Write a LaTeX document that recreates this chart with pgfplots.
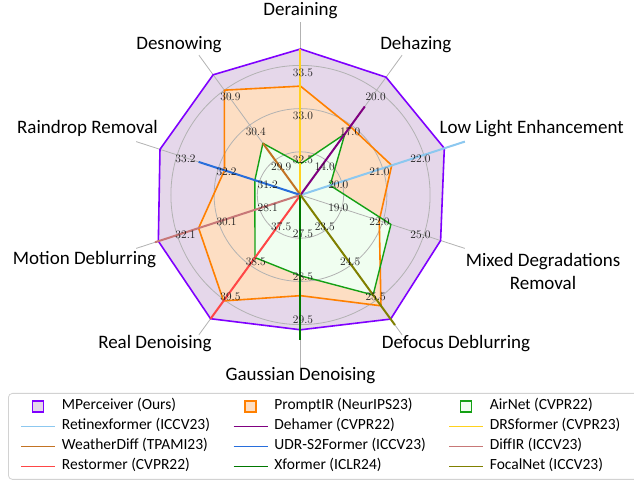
\documentclass[border=0pt]{standalone}
\usepackage{fontspec}
\usepackage{pgfplots}
\pgfplotsset{compat=1.18}
\usepackage{pgfplotstable}
\newfontfamily\calfont{Carlito}

\definecolor{mpc}{RGB}{127,0,255}
\definecolor{mpf}{RGB}{229,215,234}
\definecolor{pic}{RGB}{255,128,0}
\definecolor{pif}{RGB}{253,222,195}
\definecolor{anc}{RGB}{20,160,20}
\definecolor{anf}{RGB}{240,254,240}
\definecolor{retc}{RGB}{140,200,240}
\definecolor{dehc}{RGB}{128,0,128}
\definecolor{drsc}{RGB}{255,210,30}
\definecolor{wdc}{RGB}{195,115,35}
\definecolor{udrc}{RGB}{40,110,220}
\definecolor{difc}{RGB}{200,120,120}
\definecolor{resc}{RGB}{255,70,70}
\definecolor{xfc}{RGB}{0,120,0}
\definecolor{foc}{RGB}{128,128,0}
\definecolor{gridc}{RGB}{178,178,178}

% axes: angle, inner tick value, tick step; then the methods' values
\pgfplotstableread{
a lo st MP PIR AIR
90 32.5 0.5 33.69 33.26 32.36
54 14.0 3.0 21.11 16.88 16.24
18 20.0 1.0 22.50 21.22 19.72
-18 19.0 3.0 26.23 21.75 22.60
-54 23.5 1.0 26.05 25.67 25.36
-90 27.5 1.0 29.62 28.83 28.37
-126 37.5 1.0 40.04 39.53 38.29
-162 28.1 2.0 33.02 31.06 28.32
162 31.2 1.0 33.62 32.05 31.31
126 29.9 0.5 31.12 30.90 30.14
90 32.5 0.5 33.69 33.26 32.36
}\radar

\pgfplotstableread{
a lo st v
18 20.0 1.0 19.0
18 20.0 1.0 23.0
}\retinex
\pgfplotstableread{
a lo st v
54 14.0 3.0 11.0
54 14.0 3.0 18.6
}\dehamer
\pgfplotstableread{
a lo st v
90 32.5 0.5 32.0
90 32.5 0.5 33.69
}\drs
\pgfplotstableread{
a lo st v
126 29.9 0.5 29.4
126 29.9 0.5 30.14
}\weather
\pgfplotstableread{
a lo st v
162 31.2 1.0 30.2
162 31.2 1.0 32.68
}\udr
\pgfplotstableread{
a lo st v
-162 28.1 2.0 26.1
-162 28.1 2.0 33.18
}\diffir
\pgfplotstableread{
a lo st v
-126 37.5 1.0 36.5
-126 37.5 1.0 40.04
}\restormer
\pgfplotstableread{
a lo st v
-90 27.5 1.0 26.5
-90 27.5 1.0 29.86
}\xformer
\pgfplotstableread{
a lo st v
-54 23.5 1.0 22.5
-54 23.5 1.0 26.22
}\focal

\newcommand\RX[1]{(1+(\thisrow{#1}-\thisrow{lo})/\thisrow{st})*cos(\thisrow{a})}
\newcommand\RY[1]{(1+(\thisrow{#1}-\thisrow{lo})/\thisrow{st})*sin(\thisrow{a})}
\newcommand\spoke[1]{\draw[gridc, line width=0.8pt] (axis cs:0,0) -- (axis cs:{4*cos(#1)},{4*sin(#1)});}
\newcommand\tk[3]{\node[font=\fontsize{11.5}{13}\selectfont, text=black!90, inner sep=0pt] at (axis cs:{(#2-0.14)*cos(#1)+0.058},{(#2-0.14)*sin(#1)-0.035}) {#3};}
\newcommand\legline[1]{\addlegendimage{legend image code/.code={\draw[#1, line width=1.5pt, sharp corners] (0pt,0pt) -- (34pt,0pt);}}}
\newcommand\legsq[2]{\addlegendimage{legend image code/.code={\path[draw=none, fill=none] (0pt,0pt) -- (34pt,0pt); \draw[draw=#1, fill=#2, line width=1.5pt, sharp corners] (11.5pt,-5.5pt) rectangle (22.5pt,5.5pt);}}}

\begin{document}
\begin{tikzpicture}
\useasboundingbox (0,0) rectangle (634pt,481pt);
\begin{axis}[
  at={(0pt,0pt)}, anchor=south west,
  width=634pt, height=481pt, scale only axis,
  xmin=-6.956, xmax=7.720, ymin=-6.620, ymax=4.514,
  hide axis, clip=false,
  legend columns=3,
  legend cell align=left,
  legend style={at={(0.01262,0.18295)}, anchor=north west,
    draw=gray!35, line width=0.8pt, rounded corners=4pt, fill=white,
    inner xsep=12pt, inner ysep=6.5pt, row sep=7pt,
    font=\calfont\fontsize{15.5}{18}\selectfont,
    nodes={inner sep=0pt, text height=10pt, text depth=3pt},
    /tikz/every odd column/.append style={column sep=6pt}},
]
% fills
\addplot[forget plot, draw=none, fill=mpf] table[x expr=\RX{MP}, y expr=\RY{MP}] {\radar};
\addplot[forget plot, draw=none, fill=pif] table[x expr=\RX{PIR}, y expr=\RY{PIR}] {\radar};
\addplot[forget plot, draw=none, fill=anf] table[x expr=\RX{AIR}, y expr=\RY{AIR}] {\radar};
% grid
\draw[gridc, line width=0.8pt] (axis cs:0,0) circle[radius=1];
\draw[gridc, line width=0.8pt] (axis cs:0,0) circle[radius=2];
\draw[gridc, line width=0.8pt] (axis cs:0,0) circle[radius=3];
\spoke{90}\spoke{54}\spoke{18}\spoke{-18}\spoke{-54}
\spoke{-90}\spoke{-126}\spoke{-162}\spoke{162}\spoke{126}
% polygon edges
\addplot[forget plot, mpc, line width=1.6pt, line join=round, mark=none] table[x expr=\RX{MP}, y expr=\RY{MP}] {\radar};
\addplot[forget plot, pic, line width=1.6pt, line join=round, mark=none] table[x expr=\RX{PIR}, y expr=\RY{PIR}] {\radar};
\addplot[forget plot, anc, line width=1.4pt, line join=round, mark=none] table[x expr=\RX{AIR}, y expr=\RY{AIR}] {\radar};
% single-task methods
\addplot[forget plot, retc, line width=2pt, mark=none] table[x expr=\RX{v}, y expr=\RY{v}] {\retinex};
\addplot[forget plot, dehc, line width=2pt, mark=none] table[x expr=\RX{v}, y expr=\RY{v}] {\dehamer};
\addplot[forget plot, drsc, line width=2pt, mark=none] table[x expr=\RX{v}, y expr=\RY{v}] {\drs};
\addplot[forget plot, wdc, line width=2pt, mark=none] table[x expr=\RX{v}, y expr=\RY{v}] {\weather};
\addplot[forget plot, udrc, line width=2pt, mark=none] table[x expr=\RX{v}, y expr=\RY{v}] {\udr};
\addplot[forget plot, difc, line width=2pt, mark=none] table[x expr=\RX{v}, y expr=\RY{v}] {\diffir};
\addplot[forget plot, resc, line width=2pt, mark=none] table[x expr=\RX{v}, y expr=\RY{v}] {\restormer};
\addplot[forget plot, xfc, line width=2pt, mark=none] table[x expr=\RX{v}, y expr=\RY{v}] {\xformer};
\addplot[forget plot, foc, line width=2pt, mark=none] table[x expr=\RX{v}, y expr=\RY{v}] {\focal};
% tick labels
\tk{90}{1}{32.5}\tk{90}{2}{33.0}\tk{90}{3}{33.5}
\tk{54}{1}{14.0}\tk{54}{2}{17.0}\tk{54}{3}{20.0}
\tk{18}{1}{20.0}\tk{18}{2}{21.0}\tk{18}{3}{22.0}
\tk{-18}{1}{19.0}\tk{-18}{2}{22.0}\tk{-18}{3}{25.0}
\tk{-54}{1}{23.5}\tk{-54}{2}{24.5}\tk{-54}{3}{25.5}
\tk{-90}{1}{27.5}\tk{-90}{2}{28.5}\tk{-90}{3}{29.5}
\tk{-126}{1}{37.5}\tk{-126}{2}{38.5}\tk{-126}{3}{39.5}
\tk{-162}{1}{28.1}\tk{-162}{2}{30.1}\tk{-162}{3}{32.1}
\tk{162}{1}{31.2}\tk{162}{2}{32.2}\tk{162}{3}{33.2}
\tk{126}{1}{29.9}\tk{126}{2}{30.4}\tk{126}{3}{30.9}
% legend
\legsq{mpc}{mpf}\addlegendentry{\makebox[171pt][l]{MPerceiver (Ours)}}
\legsq{pic}{pif}\addlegendentry{\makebox[174pt][l]{PromptIR (NeurIPS23)}}
\legsq{anc}{anf}\addlegendentry{\makebox[136pt][l]{AirNet (CVPR22)}}
\legline{retc}\addlegendentry{\makebox[171pt][l]{Retinexformer (ICCV23)}}
\legline{dehc}\addlegendentry{\makebox[174pt][l]{Dehamer (CVPR22)}}
\legline{drsc}\addlegendentry{\makebox[136pt][l]{DRSformer (CVPR23)}}
\legline{wdc}\addlegendentry{\makebox[171pt][l]{WeatherDiff (TPAMI23)}}
\legline{udrc}\addlegendentry{\makebox[174pt][l]{UDR-S2Former (ICCV23)}}
\legline{difc}\addlegendentry{\makebox[136pt][l]{DiffIR (ICCV23)}}
\legline{resc}\addlegendentry{\makebox[171pt][l]{Restormer (CVPR22)}}
\legline{xfc}\addlegendentry{\makebox[174pt][l]{Xformer (ICLR24)}}
\legline{foc}\addlegendentry{\makebox[136pt][l]{FocalNet (ICCV23)}}
\end{axis}
% category labels
\begin{scope}[every node/.style={font=\calfont\fontsize{19}{23}\selectfont, anchor=base, inner sep=0pt}]
\node at (300.5pt,465pt) {Deraining};
\node at (415.8pt,431pt) {Dehazing};
\node at (531.7pt,347pt) {Low Light Enhancement};
\node at (543pt,214pt) {Mixed Degradations};
\node at (543pt,191pt) {Removal};
\node at (456pt,132pt) {Defocus Deblurring};
\node at (300.5pt,100pt) {Gaussian Denoising};
\node at (155pt,132pt) {Real Denoising};
\node at (84.5pt,216pt) {Motion Deblurring};
\node at (87.5pt,347pt) {Raindrop Removal};
\node at (179pt,431pt) {Desnowing};
\end{scope}
\end{tikzpicture}
\end{document}
